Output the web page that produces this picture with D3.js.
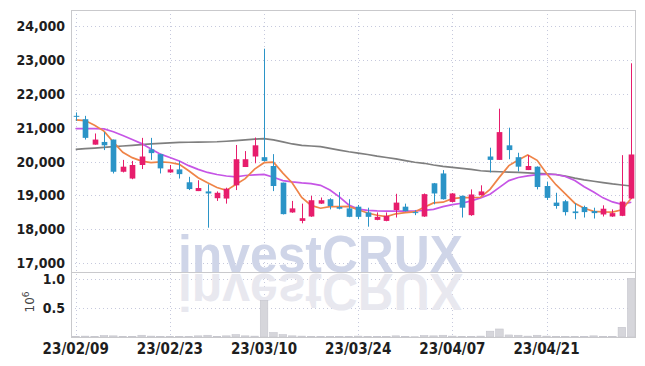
<!DOCTYPE html>
<html>
<head>
  <script src="https://d3js.org/d3.v7.min.js"></script>
  <style>
    body { margin: 0; overflow: hidden; background: #fff; }
    .tick text { font-family: "Liberation Sans Narrow", "DejaVu Sans Condensed", sans-serif; font-weight: bold; fill: #1e1e1e; }
  </style>
  <title>Chart</title>
</head>
<body>
  <script>
    // Data (price in KRW, volume in millions)
    const dates = [
      "23/02/09","23/02/10","23/02/13","23/02/14","23/02/15","23/02/16","23/02/17","23/02/20","23/02/21","23/02/22",
      "23/02/23","23/02/24","23/02/27","23/02/28","23/03/02","23/03/03","23/03/06","23/03/07","23/03/08","23/03/09",
      "23/03/10","23/03/13","23/03/14","23/03/15","23/03/16","23/03/17","23/03/20","23/03/21","23/03/22","23/03/23",
      "23/03/24","23/03/27","23/03/28","23/03/29","23/03/30","23/03/31","23/04/03","23/04/04","23/04/05","23/04/06",
      "23/04/07","23/04/10","23/04/11","23/04/12","23/04/13","23/04/14","23/04/17","23/04/18","23/04/19","23/04/20",
      "23/04/21","23/04/24","23/04/25","23/04/26","23/04/27","23/04/28","23/05/02","23/05/03","23/05/04","23/05/08"
    ];
    const opens = [21350,21250,20500,20580,20650,19700,19500,19900,20360,20220,19680,19770,19390,19130,19120,18920,18910,19300,19840,20150,
                   20130,19870,19380,18500,18250,18380,18760,18890,18660,18620,18670,18500,18280,18250,18570,18670,18510,18380,19360,19650,
                   18810,18990,18420,19010,20150,20050,20480,20130,19750,19850,19280,18790,18830,18530,18660,18540,18440,18380,18400,18910];
    const highs = [21450,21350,20830,20870,20650,20050,20020,20700,20700,20230,19900,20020,19550,19450,19330,19120,19230,20490,20310,20710,
                   23330,20220,19380,18840,18760,18990,18940,18920,19100,18890,18720,18640,18500,18500,19050,18760,18560,19060,19370,19750,
                   19070,19000,19180,19300,20410,21560,21000,20260,20190,19860,19410,19080,18870,18770,18700,18640,18710,18590,20190,22900];
    const lows  = [21200,20650,20500,20340,19650,19680,19480,19780,20050,19650,19670,19500,19160,19130,18050,18840,18760,19160,19840,19950,
                   20000,19130,18440,18490,18180,18370,18750,18590,18590,18360,18300,18080,18270,18240,18350,18530,18420,18370,18740,18880,
                   18800,18350,18400,19000,19680,20050,20070,19710,19750,19180,18870,18610,18410,18300,18350,18320,18380,18370,18390,18900];
    const closes = [21350,20700,20650,20480,19700,19850,19900,20150,20250,19800,19770,19630,19190,19220,19060,19080,19200,20070,20070,20480,
                    20020,19280,18450,18620,18330,18860,18860,18690,18610,18370,18370,18370,18370,18400,18790,18540,18480,19040,19060,18890,
                    19060,18640,19030,19120,20050,20870,20340,19850,19870,19250,18930,18690,18510,18480,18510,18480,18610,18480,18820,20210];
    const ma5 = [21230,21210,21070,20900,20576,20276,20116,20016,19970,19990,19974,19920,19728,19522,19374,19236,19150,19326,19496,19780,
                 19968,19984,19660,19370,18940,18708,18624,18672,18670,18678,18580,18482,18418,18376,18460,18494,18516,18650,18782,18802,
                 18906,18938,18936,18948,19180,19542,19882,20046,20196,20036,19648,19318,19050,18772,18624,18534,18518,18512,18580,18920];
    const ma20 = [20970,20970,20975,20965,20880,20770,20650,20530,20370,20220,20120,20020,19880,19770,19680,19620,19575,19550,19590,19610,
                  19620,19540,19440,19400,19370,19350,19300,19160,18960,18720,18600,18560,18545,18540,18540,18540,18545,18560,18590,18670,
                  18730,18770,18840,18930,19035,19240,19440,19530,19580,19615,19625,19620,19560,19440,19260,19100,18930,18810,18740,18800];
    const ma60 = [20360,20380,20400,20420,20440,20460,20480,20500,20520,20540,20555,20565,20570,20575,20578,20585,20600,20620,20640,20660,
                  20675,20640,20580,20520,20480,20460,20440,20390,20340,20290,20250,20210,20160,20120,20080,20030,19980,19950,19900,19860,
                  19830,19800,19770,19730,19710,19700,19690,19680,19670,19655,19640,19620,19570,19510,19460,19420,19380,19340,19310,19280];
    const volumes = [0.01,0.015,0.01,0.025,0.02,0.01,0.01,0.03,0.015,0.01,0.01,0.01,0.012,0.02,0.03,0.012,0.02,0.04,0.02,0.015,
                     0.63,0.075,0.04,0.02,0.015,0.01,0.008,0.006,0.008,0.008,0.015,0.01,0.008,0.006,0.02,0.006,0.005,0.025,0.02,0.03,
                     0.015,0.01,0.012,0.015,0.1,0.138,0.035,0.03,0.015,0.03,0.015,0.012,0.01,0.01,0.008,0.02,0.01,0.01,0.167,1.01];
    const priceTicks = [17000,18000,19000,20000,21000,22000,23000,24000];
    const volTicks = [0.5, 1.0];
    const dateTicks = dates.filter(function (d, i) { return i % 10 === 0; });

    const W = 645, H = 366;
    const left = 71, right = 636;
    const pTop = 10, pBottom = 272, vTop = 273, vBottom = 337;
    const upColor = "#e71d6c", downColor = "#2b94c7";

    const svg = d3.select("body").append("svg")
      .attr("width", W).attr("height", H);

    const x = d3.scaleBand().domain(dates).range([left, right]);
    const bw = x.bandwidth();
    const cx = function (i) { return x(dates[i]) + bw / 2; };

    const y = d3.scaleLinear().domain([16743, 24472]).range([pBottom, pTop]);
    const yv = d3.scaleLinear().domain([0, 1.103]).range([vBottom, vTop]);

    // grid
    const grid = svg.append("g").attr("stroke", "#c6c9dd").attr("stroke-dasharray", "1,3");
    grid.selectAll(".gy").data(priceTicks).enter().append("line")
      .attr("x1", left).attr("x2", right)
      .attr("y1", function (d) { return Math.round(y(d)) + 0.5; })
      .attr("y2", function (d) { return Math.round(y(d)) + 0.5; });
    grid.selectAll(".gv").data(volTicks).enter().append("line")
      .attr("x1", left).attr("x2", right)
      .attr("y1", function (d) { return Math.round(yv(d)) + 0.5; })
      .attr("y2", function (d) { return Math.round(yv(d)) + 0.5; });
    grid.selectAll(".gx").data(dateTicks).enter().append("line")
      .attr("y1", pTop).attr("y2", vBottom)
      .attr("x1", function (d) { return Math.round(x(d) + bw / 2) + 0.5; })
      .attr("x2", function (d) { return Math.round(x(d) + bw / 2) + 0.5; });

    // watermark and its reflection
    const wm = svg.append("g").style("font-family", "Liberation Sans, Arial, sans-serif")
      .style("font-weight", "bold").style("font-size", "52px");
    wm.append("text").attr("x", 178).attr("y", 271.5)
      .attr("textLength", 285).attr("lengthAdjust", "spacingAndGlyphs")
      .attr("fill", "#cfd5e8").text("investCRUX");
    wm.append("text").attr("x", 178).attr("y", -274)
      .attr("transform", "scale(1,-1)")
      .attr("textLength", 285).attr("lengthAdjust", "spacingAndGlyphs")
      .attr("fill", "#e8e8ef").text("investCRUX");

    // volume bars
    svg.append("g").selectAll("rect").data(volumes).enter().append("rect")
      .attr("x", function (d, i) { return cx(i) - bw * 0.4; })
      .attr("width", bw * 0.8)
      .attr("y", function (d) { return yv(d); })
      .attr("height", function (d) { return vBottom - yv(d); })
      .attr("fill", "#d6d6db").attr("stroke", "#c4c4cc").attr("stroke-width", 0.6);

    // moving averages
    const line = function (arr) {
      return d3.line().x(function (d, i) { return cx(i); }).y(function (d) { return y(d); })(arr);
    };
    svg.append("path").attr("d", line(ma60)).attr("fill", "none").attr("stroke", "#7f7f7f").attr("stroke-width", 1.7);
    svg.append("path").attr("d", line(ma20)).attr("fill", "none").attr("stroke", "#c655e6").attr("stroke-width", 1.7);
    svg.append("path").attr("d", line(ma5)).attr("fill", "none").attr("stroke", "#ef8448").attr("stroke-width", 1.7);

    // candles
    const candles = svg.append("g").selectAll("g").data(dates).enter().append("g")
      .attr("fill", function (d, i) { return closes[i] > opens[i] ? upColor : downColor; })
      .attr("stroke", function (d, i) { return closes[i] > opens[i] ? upColor : downColor; });
    candles.append("line")
      .attr("x1", function (d, i) { return Math.round(cx(i)) + 0.5; })
      .attr("x2", function (d, i) { return Math.round(cx(i)) + 0.5; })
      .attr("y1", function (d, i) { return y(highs[i]); })
      .attr("y2", function (d, i) { return y(lows[i]); })
      .attr("stroke-width", 1);
    candles.append("rect")
      .attr("x", function (d, i) { return Math.round(cx(i)) + 0.5 - bw * 0.3; })
      .attr("width", bw * 0.6)
      .attr("y", function (d, i) { return y(Math.max(opens[i], closes[i])); })
      .attr("height", function (d, i) { return Math.max(1, Math.abs(y(opens[i]) - y(closes[i]))); })
      .attr("stroke", "none");

    // frame
    const frame = svg.append("g").attr("stroke", "#c9c9cc").attr("fill", "none");
    frame.append("rect").attr("x", left + 0.5).attr("y", pTop + 0.5)
      .attr("width", right - left - 1).attr("height", vBottom - pTop);
    frame.append("line").attr("x1", left).attr("x2", right).attr("y1", pBottom + 0.5).attr("y2", pBottom + 0.5);

    // axes
    svg.append("g").attr("transform", "translate(" + left + ",0)")
      .call(d3.axisLeft(y).tickValues(priceTicks).tickFormat(d3.format(",")).tickSize(0).tickPadding(6))
      .call(function (g) { g.select(".domain").remove(); })
      .selectAll("text").style("font-size", "14px");
    svg.append("g").attr("transform", "translate(" + left + ",0)")
      .call(d3.axisLeft(yv).tickValues(volTicks).tickFormat(d3.format(".1f")).tickSize(0).tickPadding(6))
      .call(function (g) { g.select(".domain").remove(); })
      .selectAll("text").style("font-size", "14px");
    svg.append("g").attr("transform", "translate(0," + vBottom + ")")
      .call(d3.axisBottom(x).tickValues(dateTicks).tickSize(0).tickPadding(6.5))
      .call(function (g) { g.select(".domain").remove(); })
      .selectAll("text").style("font-size", "15px");

    // volume unit label
    const unit = svg.append("text")
      .attr("transform", "translate(34,302) rotate(-90)")
      .attr("text-anchor", "middle")
      .style("font-family", "DejaVu Sans, sans-serif").style("font-size", "12px").attr("fill", "#444");
    unit.append("tspan").text("10");
    unit.append("tspan").attr("dy", -5).style("font-size", "9px").text("6");
  </script>
</body>
</html>
